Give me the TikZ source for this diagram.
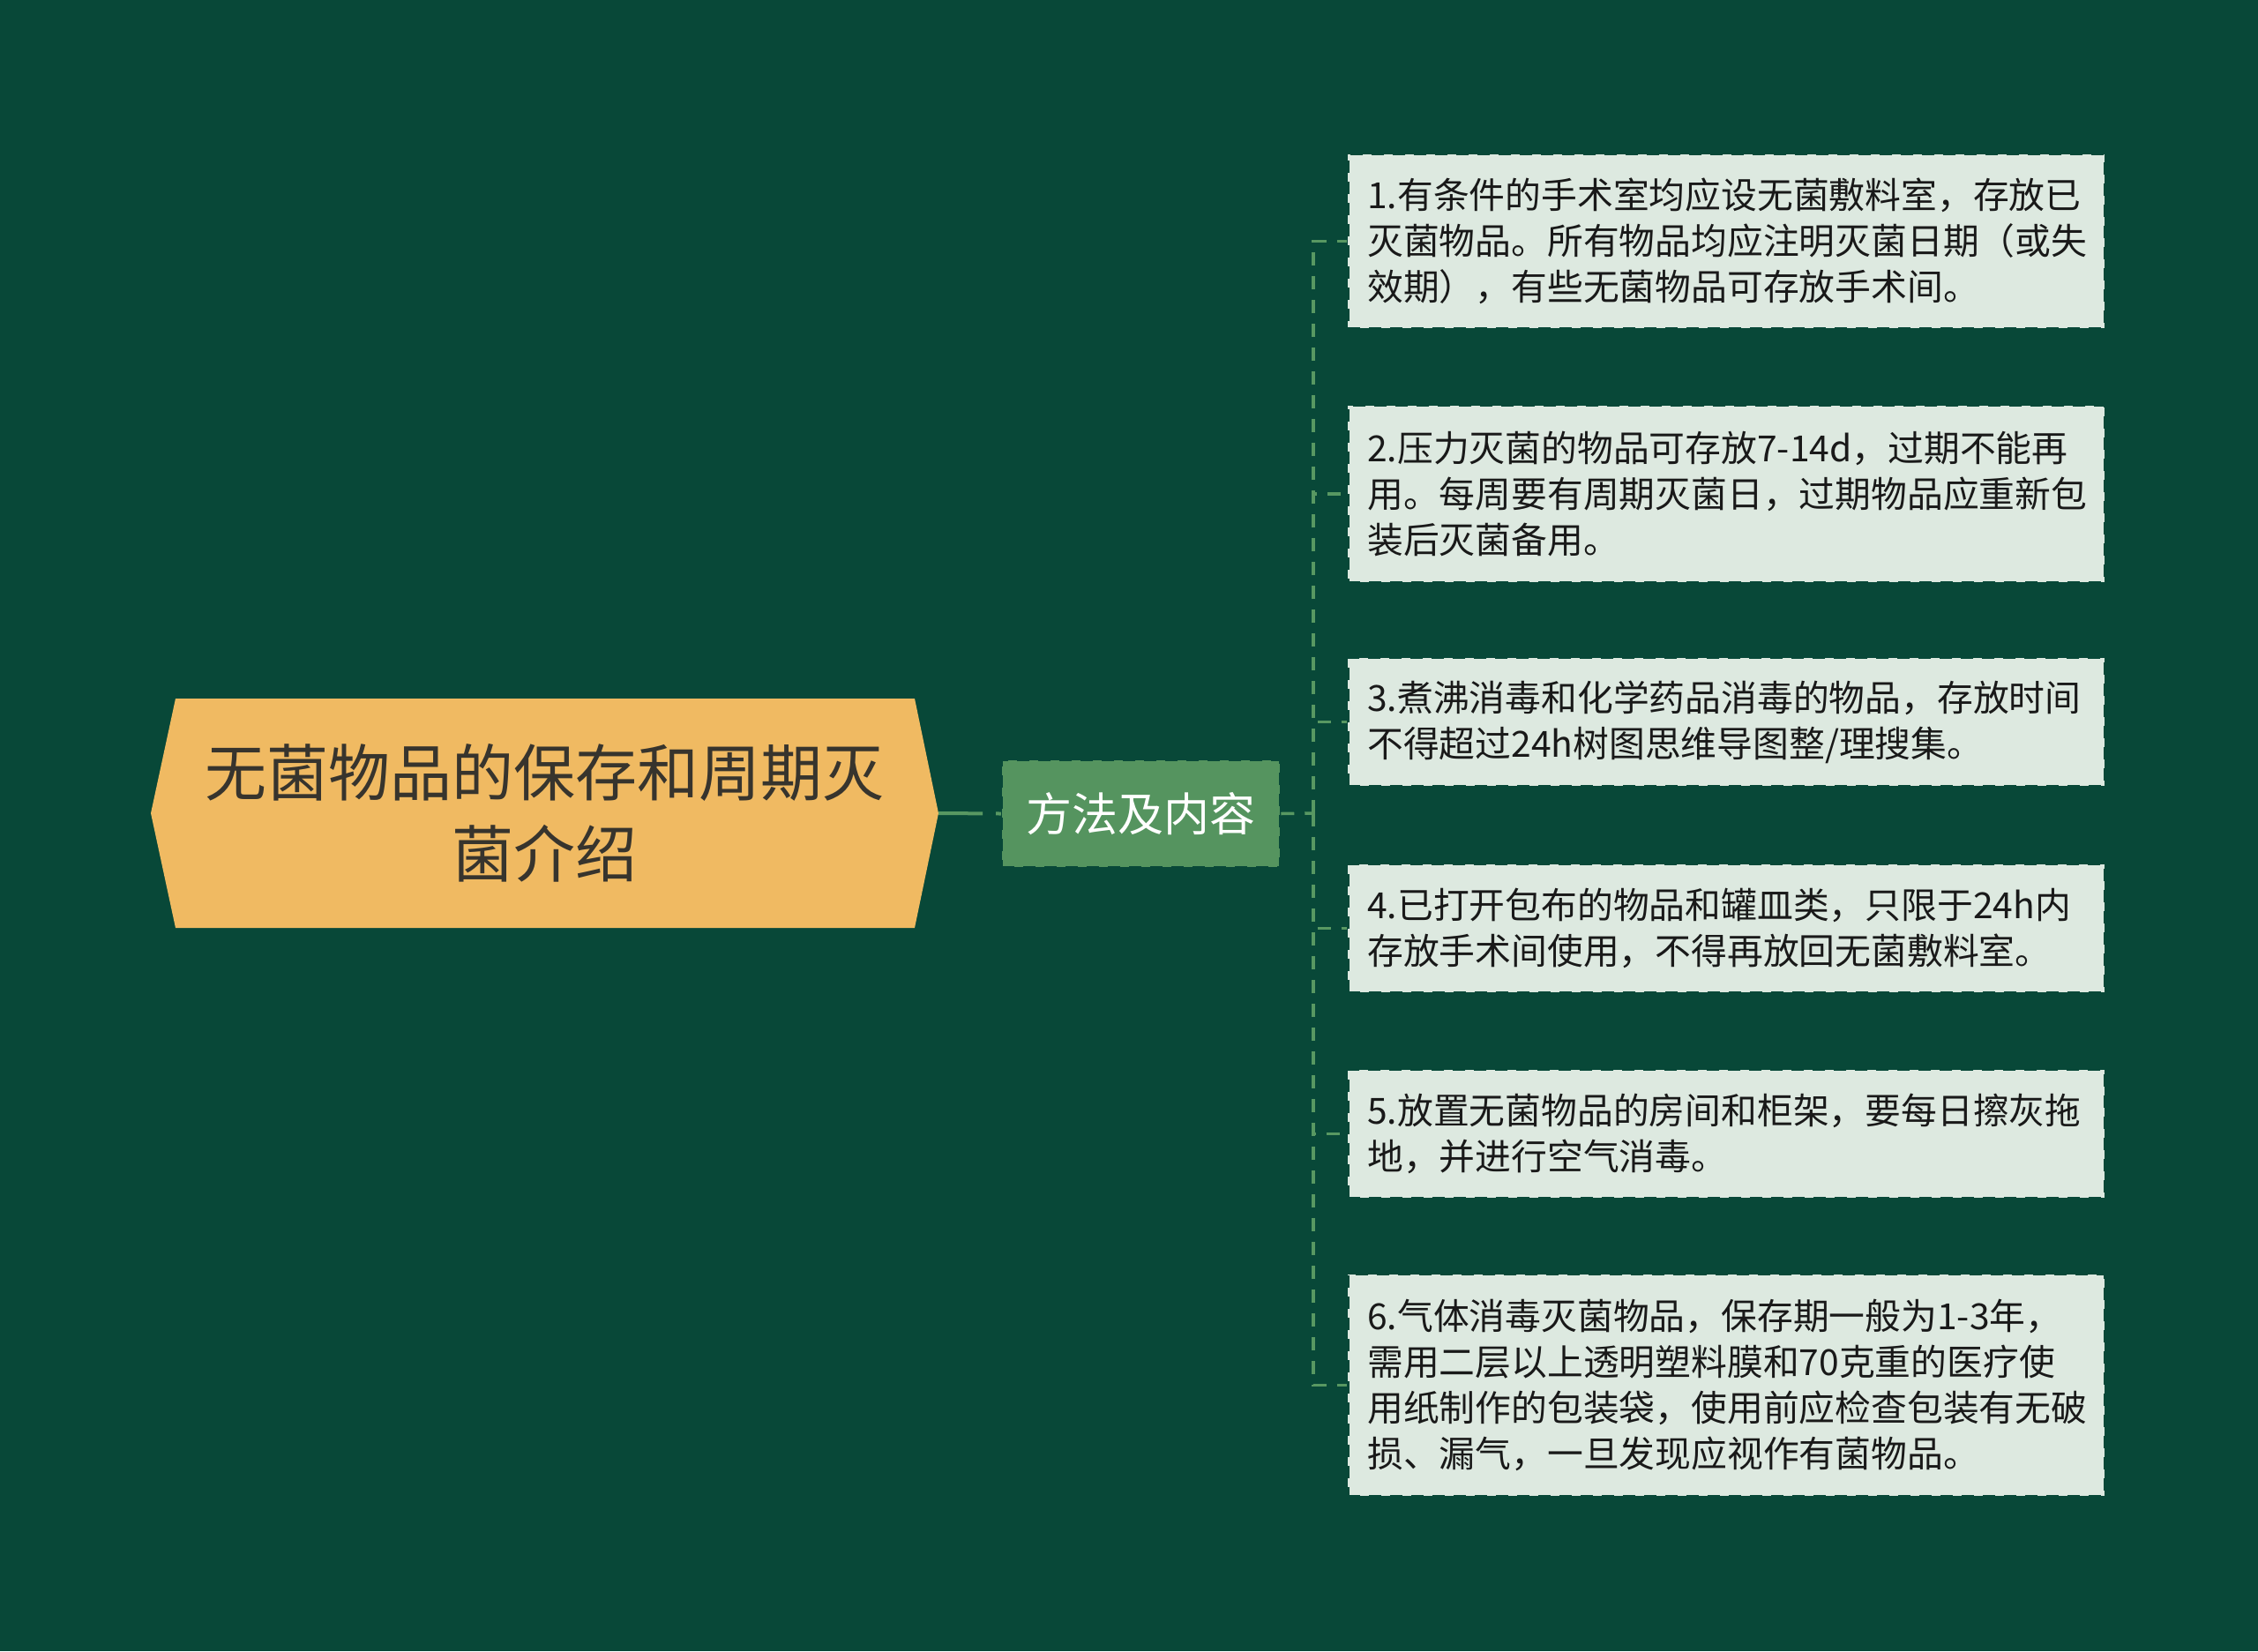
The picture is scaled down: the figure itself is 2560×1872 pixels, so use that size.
\documentclass[tikz,border=0pt]{standalone}
\usepackage{fontspec}
\setmainfont{Noto Sans CJK SC}
\definecolor{bg}{RGB}{8,72,56}
\definecolor{rootfill}{RGB}{240,186,98}
\definecolor{roottext}{RGB}{55,52,45}
\definecolor{midfill}{RGB}{85,148,95}
\definecolor{leaffill}{RGB}{221,233,224}
\definecolor{leaftext}{RGB}{25,25,25}
\definecolor{conncol}{RGB}{88,152,98}
\begin{document}
\begin{tikzpicture}[x=1pt,y=-1pt,
  rootbox/.style={minimum width=893pt, minimum height=260pt, inner sep=0pt, align=center,
    text=roottext, font=\fontsize{70}{92}\selectfont,
    path picture={\fill[rootfill]
      ([xshift=28pt]path picture bounding box.north west) --
      ([xshift=-27pt]path picture bounding box.north east) --
      (path picture bounding box.east) --
      ([xshift=-27pt]path picture bounding box.south east) --
      ([xshift=28pt]path picture bounding box.south west) --
      (path picture bounding box.west) -- cycle;}},
  midbox/.style={fill=midfill, draw=bg, line width=2.5pt, dash pattern=on 14pt off 10pt,
    minimum width=315pt, minimum height=121pt, inner sep=0pt, text=white,
    font=\fontsize{52}{60}\selectfont},
  leafbox/.style={fill=leaffill, draw=bg, line width=2.5pt, dash pattern=on 14pt off 10pt,
    text=leaftext, font=\fontsize{40.8}{52}\selectfont, align=left,
    text width=814pt, inner xsep=22pt, inner ysep=0pt, anchor=west},
  conn/.style={draw=conncol, line width=3.5pt, dash pattern=on 15pt off 12pt},
  rootconn/.style={draw=conncol, line width=4pt, dash pattern=on 50pt off 15pt}
]
\useasboundingbox[fill=bg] (0,0) rectangle (2560,1872);

\node[rootbox] (root) at (617.5,922) {无菌物品的保存和周期灭\\菌介绍};
\node[midbox] (mid) at (1293.5,922.5) {方法及内容};

\node[leafbox, minimum height=197pt] (l1) at (1527,273.5) {1.有条件的手术室均应设无菌敷料室，存放已\\灭菌物品。所有物品均应注明灭菌日期（或失\\效期），有些无菌物品可存放手术间。};
\node[leafbox, minimum height=200pt] (l2) at (1527,560) {2.压力灭菌的物品可存放7-14d，过期不能再\\用。每周要有周期灭菌日，过期物品应重新包\\装后灭菌备用。};
\node[leafbox, minimum height=145pt] (l3) at (1527,818.5) {3.煮沸消毒和化学药品消毒的物品，存放时间\\不得超过24h树图思维导图整/理搜集。};
\node[leafbox, minimum height=145pt] (l4) at (1527,1052.5) {4.已打开包布的物品和罐皿类，只限于24h内\\存放手术间使用，不得再放回无菌敷料室。};
\node[leafbox, minimum height=145pt] (l5) at (1527,1285.5) {5.放置无菌物品的房间和柜架，要每日擦灰拖\\地，并进行空气消毒。};
\node[leafbox, minimum height=251pt] (l6) at (1527,1570.5) {6.气体消毒灭菌物品，保存期一般为1-3年，\\需用二层以上透明塑料膜和70克重的医疗使\\用纸制作的包装袋，使用前应检查包装有无破\\损、漏气，一旦发现应视作有菌物品。};

\coordinate (trunk) at (1489,922);
\draw[rootconn] (root.east) -- (mid.west);
\draw[conn] (mid.east) -- (trunk);
\foreach \n in {l1,l2,l3,l4,l5,l6} {
  \draw[conn] (trunk) |- (\n.west);
}
\end{tikzpicture}
\end{document}
